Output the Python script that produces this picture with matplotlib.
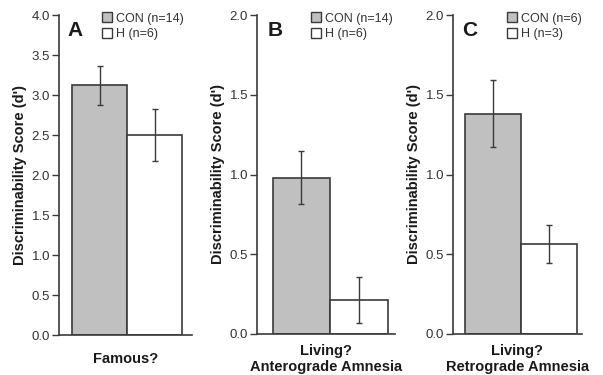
import matplotlib
matplotlib.use("Agg")
import matplotlib.pyplot as plt
from matplotlib.patches import Patch

plt.rcParams['font.family'] = ['Liberation Sans', 'DejaVu Sans']

groups = ["CON", "H"]
panel_letters = ["A", "B", "C"]
xlabels = ["Famous?", "Living?\nAnterograde Amnesia", "Living?\nRetrograde Amnesia"]
legend_labels = [["CON (n=14)", "H (n=6)"], ["CON (n=14)", "H (n=6)"], ["CON (n=6)", "H (n=3)"]]
means = [[3.12, 2.50], [0.98, 0.215], [1.38, 0.565]]
errors = [[0.24, 0.32], [0.165, 0.145], [0.21, 0.118]]
ymax = [4.0, 2.0, 2.0]
yticks = [[0.0, 0.5, 1.0, 1.5, 2.0, 2.5, 3.0, 3.5, 4.0], [0.0, 0.5, 1.0, 1.5, 2.0], [0.0, 0.5, 1.0, 1.5, 2.0]]

W, H = 603, 375
fig = plt.figure(figsize=(W / 100, H / 100), dpi=100)

# axes boxes in pixels: left, right, top, bottom
boxes = [(59, 192, 15, 335), (257, 395, 15, 334), (453, 582, 15, 334)]
xlims = [(-0.236, 2.18), (-0.27, 2.13), (-0.22, 2.09)]
legend_x = [0.32, 0.39, 0.415]
letter_x = [0.065, 0.08, 0.067]
xlabel_pad = [12, 7.5, 7.5]
fill_colors = ["#c0c0c0", "#ffffff"]
edge = "#3a3a3a"
txt = "#1a1a1a"

for i in range(3):
    l, r, t, b = boxes[i]
    ax = fig.add_axes([l / W, (H - b) / H, (r - l) / W, (b - t) / H])
    ax.bar([0, 1], means[i], width=1.0, align='edge', color=fill_colors,
           edgecolor=edge, linewidth=1.2, zorder=2)
    ax.errorbar([0.5, 1.5], means[i], yerr=errors[i], fmt='none', ecolor=edge,
                elinewidth=1.0, capsize=2, capthick=1.0, zorder=3)
    ax.set_xlim(*xlims[i])
    ax.set_ylim(0, ymax[i])
    ax.set_yticks(yticks[i])
    ax.set_yticklabels([f"{v:.1f}" for v in yticks[i]], fontsize=9.5, color="#333333")
    ax.set_xticks([])
    ax.spines['top'].set_visible(False)
    ax.spines['right'].set_visible(False)
    for s in ['left', 'bottom']:
        ax.spines[s].set_color(edge)
        ax.spines[s].set_linewidth(1.2)
    ax.tick_params(axis='y', direction='out', length=5, width=1.0, color=edge, pad=1.5)
    ax.set_ylabel("Discriminability Score (d')", fontsize=10.5, fontweight='bold', color=txt, labelpad=3)
    ax.set_xlabel(xlabels[i], fontsize=10.5, fontweight='bold', color=txt,
                  labelpad=xlabel_pad[i], linespacing=1.1)
    ax.text(letter_x[i], 1 - 21 / 320, panel_letters[i], transform=ax.transAxes, fontsize=15,
            fontweight='bold', color=txt, va='baseline', ha='left')
    handles = [Patch(facecolor=fill_colors[k], edgecolor=edge, linewidth=1.0) for k in range(2)]
    ax.legend(handles, legend_labels[i], loc='upper left', bbox_to_anchor=(legend_x[i], 1.008),
              frameon=False, fontsize=9, handlelength=0.85, handleheight=0.85,
              handletextpad=0.3, borderaxespad=0, borderpad=0, labelspacing=0.25,
              labelcolor="#333333")

fig.savefig("out.png", dpi=100)
